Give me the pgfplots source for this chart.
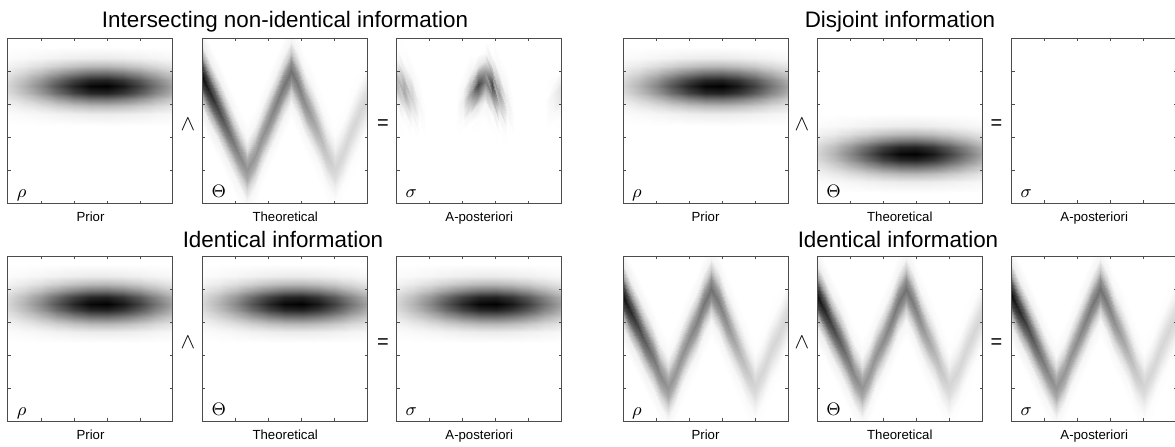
\documentclass[border=0pt]{standalone}
\usepackage{fontspec}
\setmainfont{Liberation Sans}
\usepackage{pgfplots}
\usepackage{pgfplotstable}
\pgfplotsset{compat=1.18}

% elongated gaussian blob (x varies fastest, 11 columns)
\pgfplotstableread{
x y g
0 .47 0
.1 .47 0
.2 .47 0
.3 .47 0
.4 .47 0
.5 .47 0
.6 .47 0
.7 .47 0
.8 .47 0
.9 .47 0
1 .47 0
0 .54 .013
.1 .54 .023
.2 .54 .036
.3 .54 .051
.4 .54 .066
.5 .54 .075
.6 .54 .077
.7 .54 .070
.8 .54 .057
.9 .54 .042
1 .54 .028
0 .59 .046
.1 .59 .081
.2 .59 .130
.3 .59 .185
.4 .59 .237
.5 .59 .270
.6 .59 .277
.7 .59 .253
.8 .59 .207
.9 .59 .152
1 .59 .100
0 .63 .093
.1 .63 .166
.2 .63 .264
.3 .63 .378
.4 .63 .482
.5 .63 .551
.6 .63 .563
.7 .63 .515
.8 .63 .422
.9 .63 .309
1 .63 .203
0 .67 .142
.1 .67 .254
.2 .67 .405
.3 .67 .578
.4 .67 .739
.5 .67 .844
.6 .67 .863
.7 .67 .789
.8 .67 .646
.9 .67 .473
1 .67 .310
0 .71 .164
.1 .71 .293
.2 .71 .467
.3 .71 .667
.4 .71 .852
.5 .71 .973
.6 .71 .995
.7 .71 .910
.8 .71 .745
.9 .71 .546
1 .71 .358
0 .75 .142
.1 .75 .254
.2 .75 .405
.3 .75 .578
.4 .75 .739
.5 .75 .844
.6 .75 .863
.7 .75 .789
.8 .75 .646
.9 .75 .473
1 .75 .310
0 .79 .093
.1 .79 .166
.2 .79 .264
.3 .79 .378
.4 .79 .482
.5 .79 .551
.6 .79 .563
.7 .79 .515
.8 .79 .422
.9 .79 .309
1 .79 .203
0 .83 .046
.1 .83 .081
.2 .83 .130
.3 .83 .185
.4 .83 .237
.5 .83 .270
.6 .83 .277
.7 .83 .253
.8 .83 .207
.9 .83 .152
1 .83 .100
0 .88 .013
.1 .88 .023
.2 .88 .036
.3 .88 .051
.4 .88 .066
.5 .88 .075
.6 .88 .077
.7 .88 .070
.8 .88 .057
.9 .88 .042
1 .88 .028
0 .95 0
.1 .95 0
.2 .95 0
.3 .95 0
.4 .95 0
.5 .95 0
.6 .95 0
.7 .95 0
.8 .95 0
.9 .95 0
1 .95 0
}\gausstab

% zigzag band: w = theoretical, p = a-posteriori (y varies fastest, 9 rows per column)
\pgfplotstableread{
x y w p
0 .46 0 0
0 .57 .07 .01
0 .64 .34 .10
0 .70 .74 .27
0 .76 .95 .27
0 .82 .74 .11
0 .88 .34 .02
0 .95 .07 0
0 1.06 0 0
.045 .367 0 0
.045 .477 .06 0
.045 .547 .31 .02
.045 .607 .66 .15
.045 .667 .85 .34
.045 .727 .66 .31
.045 .787 .31 .11
.045 .857 .06 .01
.045 .967 0 0
.09 .273 0 0
.09 .383 .05 0
.09 .453 .27 0
.09 .513 .57 .02
.09 .573 .74 .09
.09 .633 .57 .18
.09 .693 .27 .15
.09 .763 .05 .03
.09 .873 0 0
.135 .18 0 0
.135 .29 .05 0
.135 .36 .23 0
.135 .42 .50 0
.135 .48 .64 0
.135 .54 .50 .02
.135 .60 .23 .04
.135 .67 .05 .02
.135 .78 0 0
.18 .087 0 0
.18 .197 .04 0
.18 .267 .20 0
.18 .327 .43 0
.18 .387 .55 0
.18 .447 .43 0
.18 .507 .20 0
.18 .577 .04 0
.18 .687 0 0
.225 -.02 0 0
.225 .09 .03 0
.225 .16 .17 0
.225 .22 .36 0
.225 .28 .47 0
.225 .34 .36 0
.225 .40 .17 0
.225 .47 .03 0
.225 .58 0 0
.27 -.10 0 0
.27 .01 .03 0
.27 .08 .15 0
.27 .14 .33 0
.27 .20 .42 0
.27 .26 .33 0
.27 .32 .15 0
.27 .39 .03 0
.27 .50 0 0
.314 -.015 0 0
.314 .095 .03 0
.314 .165 .15 0
.314 .225 .32 0
.314 .285 .41 0
.314 .345 .32 0
.314 .405 .15 0
.314 .475 .03 0
.314 .585 0 0
.358 .10 0 0
.358 .21 .03 0
.358 .28 .15 0
.358 .34 .33 0
.358 .40 .43 0
.358 .46 .33 0
.358 .52 .15 0
.358 .59 .03 0
.358 .70 0 0
.402 .20 0 0
.402 .31 .03 0
.402 .38 .17 0
.402 .44 .36 0
.402 .50 .46 .01
.402 .56 .36 .04
.402 .62 .17 .07
.402 .69 .03 .03
.402 .80 0 0
.446 .30 0 0
.446 .41 .04 0
.446 .48 .18 0
.446 .54 .39 .05
.446 .60 .50 .22
.446 .66 .39 .36
.446 .72 .18 .23
.446 .79 .04 .04
.446 .90 0 0
.49 .415 0 0
.49 .525 .04 .01
.49 .595 .19 .11
.49 .655 .42 .47
.49 .715 .54 .73
.49 .775 .42 .43
.49 .835 .19 .10
.49 .905 .04 0
.49 1.015 0 0
.535 .50 0 0
.535 .61 .04 .04
.535 .68 .20 .28
.535 .74 .43 .52
.535 .80 .56 .38
.535 .86 .43 .10
.535 .92 .20 .01
.535 .99 .04 0
.535 1.10 0 0
.579 .417 0 0
.579 .527 .04 .01
.579 .597 .19 .12
.579 .657 .40 .48
.579 .717 .52 .73
.579 .777 .40 .42
.579 .837 .19 .10
.579 .907 .04 0
.579 1.017 0 0
.623 .304 0 0
.623 .414 .03 0
.623 .484 .16 .01
.623 .544 .35 .06
.623 .604 .45 .23
.623 .664 .35 .37
.623 .724 .16 .22
.623 .794 .03 .03
.623 .904 0 0
.667 .206 0 0
.667 .316 .03 0
.667 .386 .13 0
.667 .446 .29 0
.667 .506 .37 .01
.667 .566 .29 .05
.667 .626 .13 .07
.667 .696 .03 .03
.667 .806 0 0
.711 .108 0 0
.711 .218 .02 0
.711 .288 .10 0
.711 .348 .22 0
.711 .408 .29 0
.711 .468 .22 0
.711 .528 .10 0
.711 .598 .02 0
.711 .708 0 0
.756 -.005 0 0
.756 .105 .02 0
.756 .175 .08 0
.756 .235 .17 0
.756 .295 .22 0
.756 .355 .17 0
.756 .415 .08 0
.756 .485 .02 0
.756 .595 0 0
.8 -.09 0 0
.8 .02 .01 0
.8 .09 .06 0
.8 .15 .13 0
.8 .21 .17 0
.8 .27 .13 0
.8 .33 .06 0
.8 .40 .01 0
.8 .51 0 0
.85 .005 0 0
.85 .115 .01 0
.85 .185 .06 0
.85 .245 .12 0
.85 .305 .16 0
.85 .365 .12 0
.85 .425 .06 0
.85 .495 .01 0
.85 .605 0 0
.9 .13 0 0
.9 .24 .01 0
.9 .31 .06 0
.9 .37 .12 0
.9 .43 .16 0
.9 .49 .12 0
.9 .55 .06 0
.9 .62 .01 0
.9 .73 0 0
.95 .24 0 0
.95 .35 .01 0
.95 .42 .06 0
.95 .48 .12 0
.95 .54 .16 .02
.95 .60 .12 .04
.95 .66 .06 .05
.95 .73 .01 .01
.95 .84 0 0
1 .35 0 0
1 .46 .01 0
1 .53 .06 .01
1 .59 .12 .04
1 .65 .16 .12
1 .71 .12 .13
1 .77 .06 .06
1 .84 .01 0
1 .95 0 0
}\bandtab

\pgfplotsset{
  panel/.style={
    width=82.5pt, height=82.5pt, scale only axis,
    anchor=south west,
    xmin=0, xmax=1, ymin=0, ymax=1,
    xtick={0.2,0.4,0.6,0.8}, ytick={0.2,0.4,0.6,0.8},
    xticklabels={}, yticklabels={},
    tick align=inside, tick pos=both,
    major tick length=1.4pt,
    axis line style={black!70, line width=0.5pt},
    every tick/.style={black!70, line width=0.4pt},
    colormap={wb}{gray(0cm)=(1); gray(1cm)=(0)},
    point meta min=0, point meta max=1,
    axis on top,
    xlabel style={at={(axis description cs:0.5,0)}, anchor=base, yshift=-9pt,
      font=\fontsize{6.6}{7}\selectfont},
  },
  blob/.style={surf, shader=interp, mesh/cols=11, point meta=explicit},
  band/.style={surf, shader=interp, mesh/ordering=y varies, mesh/rows=9,
    mesh/cols=23, point meta=explicit},
}
\newcommand{\glab}[1]{\node[anchor=base west, inner sep=0pt,
  font=\fontsize{9.5}{10}\selectfont] at (rel axis cs:0,0) [xshift=4.3pt, yshift=3pt] {$#1$};}

\begin{document}
\begin{tikzpicture}
\useasboundingbox (0,0) rectangle (587.5pt,223pt);

% ---- top left: intersecting non-identical information
\begin{axis}[panel, at={(4pt,121.35pt)}, xlabel={Prior}]
\addplot[blob] table[x=x, y=y, meta=g] {\gausstab};
\glab{\rho}
\end{axis}
\begin{axis}[panel, at={(101.35pt,121.35pt)}, xlabel={Theoretical}]
\addplot[band] table[x=x, y=y, meta=w] {\bandtab};
\glab{\Theta}
\end{axis}
\begin{axis}[panel, at={(198.35pt,121.35pt)}, xlabel={A-posteriori}]
\addplot[band] table[x=x, y=y, meta=p] {\bandtab};
\glab{\sigma}
\end{axis}

% ---- top right: disjoint information
\begin{axis}[panel, at={(311.5pt,121.35pt)}, xlabel={Prior}]
\addplot[blob] table[x=x, y=y, meta=g] {\gausstab};
\glab{\rho}
\end{axis}
\begin{axis}[panel, at={(408.65pt,121.35pt)}, xlabel={Theoretical}]
\addplot[blob] table[x=x, y expr=\thisrow{y}-0.41, meta=g] {\gausstab};
\glab{\Theta}
\end{axis}
\begin{axis}[panel, at={(505.85pt,121.35pt)}, xlabel={A-posteriori}]
\glab{\sigma}
\end{axis}

% ---- bottom left: identical information (blob)
\begin{axis}[panel, at={(4pt,12.5pt)}, xlabel={Prior}]
\addplot[blob] table[x=x, y=y, meta=g] {\gausstab};
\glab{\rho}
\end{axis}
\begin{axis}[panel, at={(101.35pt,12.5pt)}, xlabel={Theoretical}]
\addplot[blob] table[x=x, y=y, meta=g] {\gausstab};
\glab{\Theta}
\end{axis}
\begin{axis}[panel, at={(198.35pt,12.5pt)}, xlabel={A-posteriori}]
\addplot[blob] table[x=x, y=y, meta=g] {\gausstab};
\glab{\sigma}
\end{axis}

% ---- bottom right: identical information (zigzag)
\begin{axis}[panel, at={(311.5pt,12.5pt)}, xlabel={Prior}]
\addplot[band] table[x=x, y=y, meta=w] {\bandtab};
\glab{\rho}
\end{axis}
\begin{axis}[panel, at={(408.65pt,12.5pt)}, xlabel={Theoretical}]
\addplot[band] table[x=x, y=y, meta=w] {\bandtab};
\glab{\Theta}
\end{axis}
\begin{axis}[panel, at={(505.85pt,12.5pt)}, xlabel={A-posteriori}]
\addplot[band] table[x=x, y=y, meta=w] {\bandtab};
\glab{\sigma}
\end{axis}

% titles and operators
\begin{scope}[every node/.style={inner sep=0pt}]
\node[anchor=base, font=\fontsize{11.2}{13}\selectfont] at (142.5pt,209.35pt) {Intersecting non-identical information};
\node[anchor=base, font=\fontsize{11.2}{13}\selectfont] at (450pt,209.35pt) {Disjoint information};
\node[anchor=base, font=\fontsize{11.2}{13}\selectfont] at (141.5pt,99.5pt) {Identical information};
\node[anchor=base, font=\fontsize{11.2}{13}\selectfont] at (449pt,99.5pt) {Identical information};
\foreach \xa/\xb in {94/191.5, 401/498.25} {
  \node[font=\fontsize{11}{12}\selectfont] at (\xa pt,161pt) {$\wedge$};
  \node[font=\fontsize{10}{12}\selectfont] at (\xb pt,160.75pt) {=};
  \node[font=\fontsize{11}{12}\selectfont] at (\xa pt,51.75pt) {$\wedge$};
  \node[font=\fontsize{10}{12}\selectfont] at (\xb pt,51.25pt) {=};
}
\end{scope}
\end{tikzpicture}
\end{document}
